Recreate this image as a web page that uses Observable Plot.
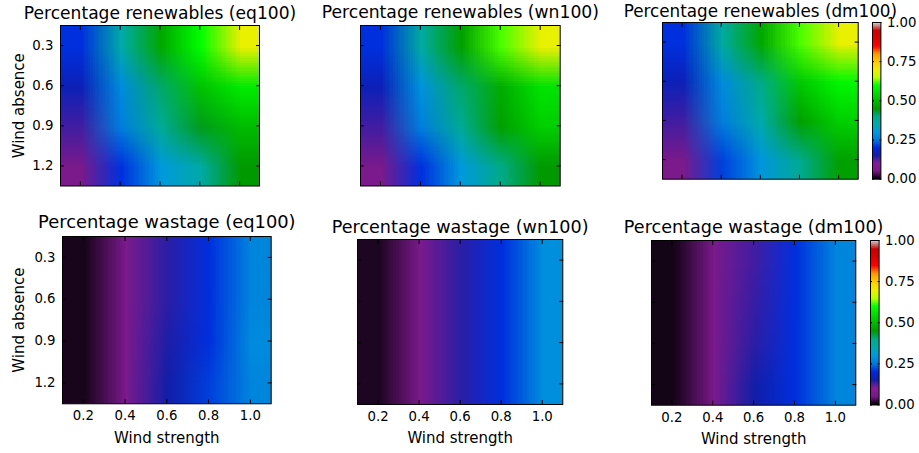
<!DOCTYPE html>
<html><head><meta charset="utf-8">
<script src="https://cdn.jsdelivr.net/npm/d3@7"></script>
<script src="https://cdn.jsdelivr.net/npm/@observablehq/plot@0.6"></script>
<style>
html,body{margin:0;padding:0;background:#fff;}
#root{position:relative;width:919px;height:453px;overflow:hidden;}
#root svg{position:absolute;overflow:visible;max-width:none;}
</style></head><body><div id="root"></div>
<script>
const strengthTicks = [0.2,0.4,0.6,0.8,1.0];
const absenceTicks = [0.3,0.6,0.9,1.2];
const barTicks = [0,0.25,0.5,0.75,1];
const cmapStops = [0,.05,.1,.15,.2,.25,.3,.35,.4,.45,.5,.55,.6,.65,.7,.75,.8,.85,.9,.95,1];
const cmapColors = ["#000000","#771a88","#881c99","#121ea8","#0028dd","#0077dd","#0099dd","#00aaaa","#00aa88","#009900","#00bb00","#00dd00","#00ff00","#bbff00","#eeee00","#ffcc00","#ff9900","#ff0000","#dd0000","#cc0000","#cccccc"];
// rows: absence .3,.6,.9,1.2 ; cols: strength .2 .. 1.0
const renewablesEq = [.205,.35,.47,.60,.695, .165,.28,.41,.51,.57, .13,.26,.375,.44,.50, .06,.205,.30,.355,.45];
const renewablesWn = [.205,.36,.46,.62,.695, .165,.29,.41,.48,.56, .13,.26,.38,.46,.53, .06,.205,.30,.40,.45];
const renewablesDm = [.205,.36,.47,.62,.695, .165,.28,.40,.52,.59, .13,.26,.35,.46,.53, .06,.215,.295,.385,.46];
const wastageEq = [.01,.06,.14,.205,.27, .01,.06,.14,.205,.27, .01,.06,.145,.205,.28, .01,.06,.15,.215,.27];
const wastageWn = [.012,.06,.14,.205,.285, .012,.06,.14,.205,.285, .012,.06,.14,.205,.285, .012,.06,.14,.205,.285];
const wastageDm = [.008,.06,.13,.205,.27, .008,.06,.135,.205,.27, .008,.06,.14,.205,.27, .008,.06,.15,.205,.27];
const panels = [
 {title:"Percentage renewables (eq100)",values:renewablesEq,x0:60,x1:259,y0:25,y1:185.5,yLabels:true,xLabels:false,titleY:18,titleSize:17.1},
 {title:"Percentage renewables (wn100)",values:renewablesWn,x0:360,x1:559.7,y0:25,y1:185.5,yLabels:false,xLabels:false,titleY:18,titleSize:17.2},
 {title:"Percentage renewables (dm100)",values:renewablesDm,x0:662.3,x1:858,y0:22.3,y1:179,yLabels:false,xLabels:false,titleY:17,titleSize:16.8},
 {title:"Percentage wastage (eq100)",values:wastageEq,x0:62,x1:270.7,y0:236,y1:403.3,yLabels:true,xLabels:true,titleY:228,titleSize:17.9},
 {title:"Percentage wastage (wn100)",values:wastageWn,x0:356.7,x1:562,y0:239.3,y1:404.3,yLabels:false,xLabels:true,titleY:233,titleSize:17.6},
 {title:"Percentage wastage (dm100)",values:wastageDm,x0:651,x1:855.3,y0:240,y1:404.7,yLabels:false,xLabels:true,titleY:233,titleSize:17.6}
];
const bars = [{x0:872.3,x1:880.7,y0:22.3,y1:179},{x0:869.7,x1:878.3,y0:240,y1:404.5}];
const font = "'DejaVu Sans'";
const color = {type:"linear",domain:cmapStops,range:cmapColors};
const root = document.getElementById("root");
function place(svg,left,top){svg.style.left=left+"px";svg.style.top=top+"px";root.appendChild(svg);}
const mL=70,mR=40,mT=30,mB=60;
for(const p of panels){
  const marks=[
    Plot.raster(p.values,{width:5,height:4,x1:.1,x2:1.1,y1:.15,y2:1.35,imageRendering:"auto"}),
    Plot.axisX({anchor:"bottom",ticks:strengthTicks,tickSize:-4,tickPadding:p.xLabels?11:0,tickFormat:p.xLabels?(d=>d.toFixed(1)):(()=>""),label:null,fontSize:13.3}),
    Plot.axisX({anchor:"top",ticks:strengthTicks,tickSize:-4,tickFormat:()=>"",label:null}),
    Plot.axisY({anchor:"left",ticks:absenceTicks,tickSize:-4,tickPadding:p.yLabels?11:0,tickFormat:p.yLabels?(d=>d.toFixed(1)):(()=>""),label:null,fontSize:13.3}),
    Plot.axisY({anchor:"right",ticks:absenceTicks,tickSize:-4,tickFormat:()=>"",label:null}),
    Plot.frame({stroke:"#000",strokeWidth:1}),
    Plot.text([p.title],{frameAnchor:"top",dy:p.titleY-p.y0,fontSize:p.titleSize,fill:"#000",lineAnchor:"bottom"})
  ];
  if(p.xLabels) marks.push(Plot.text(["Wind strength"],{frameAnchor:"bottom",dy:34,fontSize:15,fill:"#000",lineAnchor:"middle"}));
  if(p.yLabels) marks.push(Plot.text(["Wind absence"],{frameAnchor:"left",dx:19-p.x0,rotate:-90,textAnchor:"middle",fontSize:15,fill:"#000"}));
  const svg=Plot.plot({width:p.x1-p.x0+mL+mR,height:p.y1-p.y0+mT+mB,marginLeft:mL,marginRight:mR,marginTop:mT,marginBottom:mB,
    x:{domain:[.1,1.1]},y:{domain:[1.35,.15]},color,style:{background:"transparent",fontFamily:font,color:"#000",overflow:"visible"},marks});
  place(svg,p.x0-mL,p.y0-mT);
}
const levels=d3.range(256).map(i=>(255-i)/255);
for(const b of bars){
  const svg=Plot.plot({width:b.x1-b.x0+mL+mR,height:b.y1-b.y0+mT+mB,marginLeft:mL,marginRight:mR,marginTop:mT,marginBottom:mB,
    x:{domain:[0,1],axis:null},y:{domain:[0,1]},color,style:{background:"transparent",fontFamily:font,color:"#000",overflow:"visible"},
    marks:[
      Plot.raster(levels,{width:1,height:256,x1:0,x2:1,y1:1,y2:0,imageRendering:"pixelated"}),
      Plot.axisY({anchor:"right",ticks:barTicks,tickSize:-2,tickPadding:8,tickFormat:d=>d.toFixed(2),label:null,fontSize:13.3}),
      Plot.axisY({anchor:"left",ticks:barTicks,tickSize:-2,tickFormat:()=>"",label:null}),
      Plot.frame({stroke:"#000",strokeWidth:1})
    ]});
  place(svg,b.x0-mL,b.y0-mT);
}
</script></body></html>
